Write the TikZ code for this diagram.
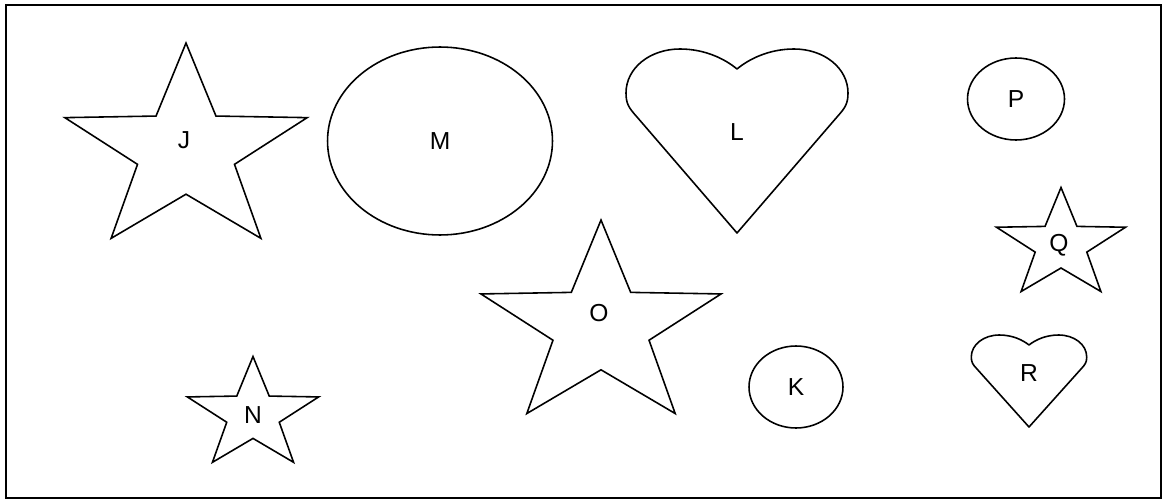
\documentclass[tikz,border=0pt]{standalone}
\usepackage{fontspec}
\setmainfont{Liberation Sans}
\usepackage{tikz}
\usetikzlibrary{shapes.geometric}

\begin{document}
\begin{tikzpicture}[
    x=0.02cm, y=-0.02cm,
    lbl/.style = {font=\fontsize{14}{16}\selectfont, inner sep=0pt},
    starbox/.style = {star, star points=5, star point ratio=2.5, draw=black, line width=0.9pt, inner sep=0pt, outer sep=0pt, xscale=1.18, transform shape},
    oval/.style = {ellipse, draw=black, line width=0.9pt, inner sep=0pt, outer sep=0pt, font=\fontsize{14}{16}\selectfont},
    frame/.style = {draw=black, line width=1pt},
    heart/.pic = {
        \draw[line width=0.9pt, line join=round] (0,92) -- (-100,-24)
            .. controls (-108,-33) and (-111,-37) .. (-111,-48)
            .. controls (-111,-73) and (-87,-92) .. (-57,-92)
            .. controls (-32,-92) and (-12,-82) .. (0,-72)
            .. controls (12,-82) and (32,-92) .. (57,-92)
            .. controls (87,-92) and (111,-73) .. (111,-48)
            .. controls (111,-37) and (108,-33) .. (100,-24) -- cycle;
    }
]
\useasboundingbox (0,0) rectangle (1163,500);
\draw[frame] (6,5) rectangle (1161,498);

% stars
\node[starbox, minimum size=4.32cm] (J) at (186,151) {};
\node[starbox, minimum size=4.28cm] (O) at (601,327) {};
\node[starbox, minimum size=2.34cm] (N) at (253,415) {};
\node[starbox, minimum size=2.30cm] (Q) at (1061,245) {};
\node[lbl] (J-txt) at (184,140) {J};
\node[lbl] (O-txt) at (599,313) {O};
\node[lbl] (N-txt) at (253,415) {N};
\node[lbl] (Q-txt) at (1059,245) {Q};

% ovals
\node[oval, minimum width=4.5cm, minimum height=3.76cm] (M) at (440,141) {M};
\node[oval, minimum width=1.94cm, minimum height=1.64cm] (P) at (1016,99) {P};
\node[oval, minimum width=1.88cm, minimum height=1.64cm] (K) at (796,387) {K};

% hearts
\pic at (737,141) {heart};
\pic[xscale=0.52, yscale=0.5] at (1029,381) {heart};
\node[lbl] (L) at (737,132) {L};
\node[lbl] (R) at (1029,373) {R};

\end{tikzpicture}
\end{document}
